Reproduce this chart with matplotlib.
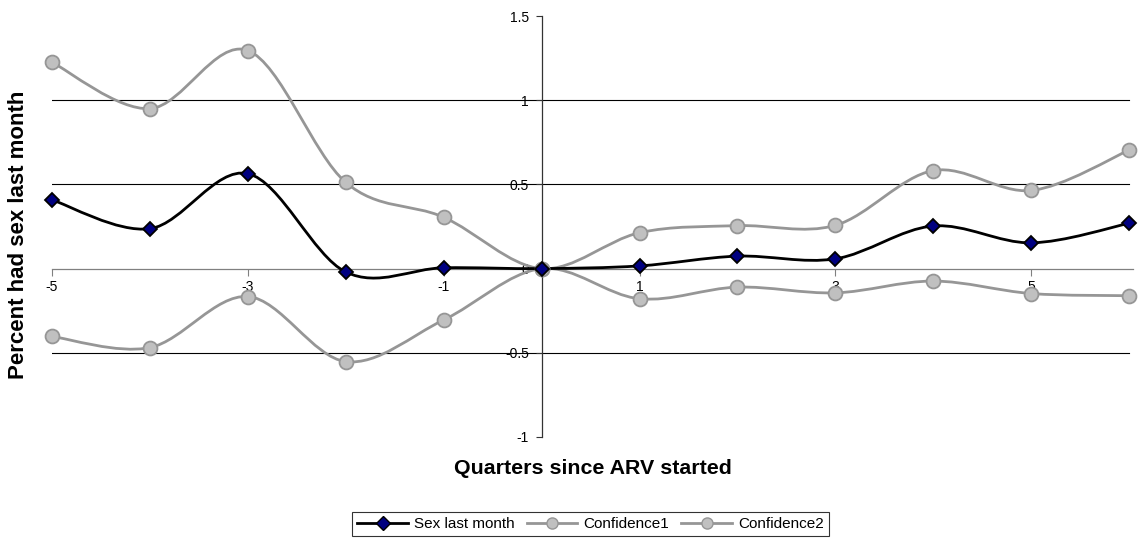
import matplotlib
matplotlib.use("Agg")
import matplotlib.pyplot as plt
from matplotlib.path import Path
from matplotlib.patches import PathPatch
from matplotlib.lines import Line2D
import numpy as np

plt.rcParams['font.family'] = ['Liberation Sans', 'DejaVu Sans']

quarters = [-5, -4, -3, -2, -1, 0, 1, 2, 3, 4, 5, 6]
sex_last_month = [0.408, 0.237, 0.564, -0.02, 0.005, 0.0, 0.016, 0.074, 0.058, 0.253, 0.153, 0.269]
confidence1 = [1.225, 0.950, 1.295, 0.512, 0.305, 0.0, 0.213, 0.255, 0.257, 0.582, 0.464, 0.703]
confidence2 = [-0.403, -0.469, -0.166, -0.552, -0.305, 0.0, -0.179, -0.110, -0.144, -0.074, -0.148, -0.161]
yticks = [-1, -0.5, 0, 0.5, 1, 1.5]
ytick_labels = ['-1', '-0.5', '0', '0.5', '1', '1.5']
xtick_vals = [-5, -3, -1, 1, 3, 5]


def smooth_path(x, y):
    pts = np.column_stack([x, y]).astype(float)
    n = len(pts)
    verts = [pts[0]]
    codes = [Path.MOVETO]
    for i in range(n - 1):
        p0 = pts[i - 1] if i > 0 else pts[i]
        p1 = pts[i]
        p2 = pts[i + 1]
        p3 = pts[i + 2] if i + 2 < n else pts[i + 1]
        c1 = p1 + (p2 - p0) / 6.0
        c2 = p2 - (p3 - p1) / 6.0
        verts += [c1, c2, p2]
        codes += [Path.CURVE4] * 3
    return Path(verts, codes)


fig = plt.figure(figsize=(11.38, 5.38), dpi=100)
ax = fig.add_axes([52 / 1138, 101 / 538, (1133 - 52) / 1138, (522 - 101) / 538])
ax.set_xlim(-5, 6.04)
ax.set_ylim(-1, 1.5)

# gridlines
for gv in [1, 0.5, -0.5]:
    ax.plot([-5, 6], [gv, gv], color='#000000', lw=0.8, zorder=1)

series = [
    (confidence1, '#969696', 'o', '#C0C0C0', '#969696', 10, 'Confidence1'),
    (confidence2, '#969696', 'o', '#C0C0C0', '#969696', 10, 'Confidence2'),
    (sex_last_month, '#000000', 'D', '#000080', '#000000', 7.5, 'Sex last month'),
]
for vals, lc, mk, mfc, mec, ms, lab in series:
    patch = PathPatch(smooth_path(quarters, vals), facecolor='none', edgecolor=lc, lw=2, zorder=3)
    ax.add_patch(patch)
    ax.plot(quarters, vals, linestyle='none', marker=mk, markerfacecolor=mfc,
            markeredgecolor=mec, markersize=ms, markeredgewidth=1.3, zorder=4, clip_on=False)

for s in ['top', 'right']:
    ax.spines[s].set_visible(False)
ax.spines['left'].set_position(('data', 0))
ax.spines['bottom'].set_position(('data', 0))
ax.spines['left'].set_color('#333333')
ax.spines['bottom'].set_color('#808080')
ax.spines['left'].set_linewidth(0.9)
ax.spines['bottom'].set_linewidth(0.9)
ax.spines['left'].set_zorder(2)
ax.spines['bottom'].set_zorder(2)

ax.set_yticks(yticks)
ax.set_yticklabels(ytick_labels)
ax.set_xticks(xtick_vals)
ax.set_xticklabels([str(v) for v in xtick_vals])
ax.tick_params(axis='y', direction='out', length=4, width=0.8, color='#333333', labelsize=10, pad=5)
ax.tick_params(axis='x', direction='out', length=5, width=0.8, color='#808080', labelsize=10, pad=3)

fig.text(593 / 1138, 1 - 469 / 538, 'Quarters since ARV started', ha='center', va='center',
         fontsize=15.4, fontweight='bold')
fig.text(19 / 1138, 1 - 235 / 538, 'Percent had sex last month', ha='center', va='center',
         rotation=90, fontsize=16, fontweight='bold')

handles = [
    Line2D([], [], color='#000000', lw=2, marker='D', markerfacecolor='#000080', markeredgecolor='#000000', markersize=7),
    Line2D([], [], color='#969696', lw=2, marker='o', markerfacecolor='#C0C0C0', markeredgecolor='#969696', markersize=8),
    Line2D([], [], color='#969696', lw=2, marker='o', markerfacecolor='#C0C0C0', markeredgecolor='#969696', markersize=8),
]
leg = fig.legend(handles, ['Sex last month', 'Confidence1', 'Confidence2'], loc='center',
                 bbox_to_anchor=(590.5 / 1138, 1 - 524 / 538), ncol=3, fontsize=11, frameon=True,
                 fancybox=False, edgecolor='#000000', handlelength=3.3, columnspacing=0.8,
                 handletextpad=0.4, borderpad=0.35, borderaxespad=0)
leg.get_frame().set_linewidth(0.8)

fig.savefig('out.png', dpi=100)
